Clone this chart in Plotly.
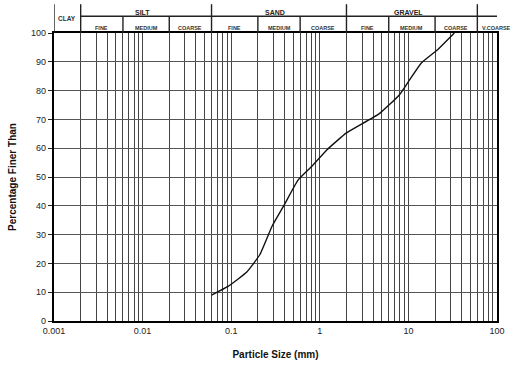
import numpy as np
import plotly.graph_objects as go

# Grading curve: particle size (mm) vs percentage finer
size_mm = [0.06, 0.092, 0.15, 0.21, 0.29, 0.40, 0.57, 0.83, 1.2, 2.0, 4.7, 7.9, 10.3, 14, 21, 29, 33]
pct_finer = [9, 12, 17, 23, 33, 40.5, 49, 54, 59.4, 65.3, 72, 78.5, 83.7, 89.6, 94, 98.3, 100]

# Soil classification boundaries (mm)
major_bounds = [0.001, 0.002, 0.06, 2, 60]
minor_bounds = [0.006, 0.02, 0.2, 0.6, 6, 20]
groups = [("SILT", 0.002, 0.06), ("SAND", 0.06, 2), ("GRAVEL", 2, 60)]
subs = [("FINE", 0.002, 0.006), ("MEDIUM", 0.006, 0.02), ("COARSE", 0.02, 0.06),
        ("FINE", 0.06, 0.2), ("MEDIUM", 0.2, 0.6), ("COARSE", 0.6, 2),
        ("FINE", 2, 6), ("MEDIUM", 6, 20), ("COARSE", 20, 60),
        ("V.COARSE", 60, 160)]
clay = ("CLAY", 0.001, 0.002)

# Axis ticks
decades = [0.001, 0.01, 0.1, 1, 10, 100]
decade_labels = ["0.001", "0.01", "0.1", "1", "10", "100"]
y_ticks = list(range(0, 101, 10))

grid_vals = []
grid_text = []
for d, lab in zip(decades[:-1], decade_labels[:-1]):
    for m in range(1, 10):
        grid_vals.append(d * m)
        grid_text.append(lab if m == 1 else "")
grid_vals.append(decades[-1])
grid_text.append(decade_labels[-1])

FONT = "Arial, Liberation Sans, sans-serif"

fig = go.Figure()
fig.add_trace(go.Scatter(
    x=size_mm, y=pct_finer, mode="lines",
    line=dict(color="#111", width=1.4, shape="spline", smoothing=0.4),
    showlegend=False, hoverinfo="skip",
))

# Header frame above plot
top_major = 1.1
top_minor = 1.058
shapes = []
for b in major_bounds:
    shapes.append(dict(type="line", xref="x", yref="paper", x0=b, x1=b, y0=1, y1=top_major,
                       line=dict(color="#222", width=1.4)))
for b in minor_bounds:
    shapes.append(dict(type="line", xref="x", yref="paper", x0=b, x1=b, y0=1, y1=top_minor,
                       line=dict(color="#222", width=1.4)))
shapes.append(dict(type="line", xref="x", yref="paper", x0=0.002, x1=166, y0=top_minor, y1=top_minor,
                   line=dict(color="#222", width=1.4)))

annotations = []
def mid(a, b):
    return (np.log10(a) + np.log10(b)) / 2

for name, a, b in groups:
    annotations.append(dict(x=mid(a, b) - 0.04, y=1.089, xref="x", yref="paper", text=f"<b>{name}</b>",
                            showarrow=False, font=dict(family=FONT, size=7, color="#222")))
for name, a, b in subs:
    annotations.append(dict(x=mid(a, b), y=1.036, xref="x", yref="paper", text=f"<b>{name}</b>",
                            showarrow=False, font=dict(family=FONT, size=5.5, color="#333")))
annotations.append(dict(x=mid(clay[1], clay[2]), y=1.07, xref="x", yref="paper", text=f"<b>{clay[0]}</b>",
                        showarrow=False, font=dict(family=FONT, size=6.5, color="#333")))

fig.update_layout(
    width=519, height=367,
    margin=dict(l=54, r=22, t=33, b=46),
    paper_bgcolor="white", plot_bgcolor="white",
    shapes=shapes, annotations=annotations,
    xaxis=dict(
        type="log", range=[-3, 2], automargin=False,
        tickvals=grid_vals, ticktext=grid_text,
        showgrid=True, gridcolor="#444", gridwidth=1,
        showline=True, linecolor="black", linewidth=2.2, mirror=True,
        ticks="", zeroline=False,
        tickfont=dict(family=FONT, size=9, color="#222"),
        title=dict(text="<b>Particle Size (mm)</b>", standoff=16,
                   font=dict(family=FONT, size=10, color="#111")),
    ),
    yaxis=dict(
        range=[0, 100], tickvals=y_ticks, automargin=False,
        showgrid=True, gridcolor="#555", gridwidth=1,
        showline=True, linecolor="black", linewidth=2.2, mirror=True,
        ticks="outside", ticklen=4, tickcolor="#222", zeroline=False,
        tickfont=dict(family=FONT, size=9, color="#222"),
        title=dict(text="<b>Percentage Finer Than</b>", standoff=13,
                   font=dict(family=FONT, size=10, color="#111")),
    ),
)

fig.write_html("out.html")
